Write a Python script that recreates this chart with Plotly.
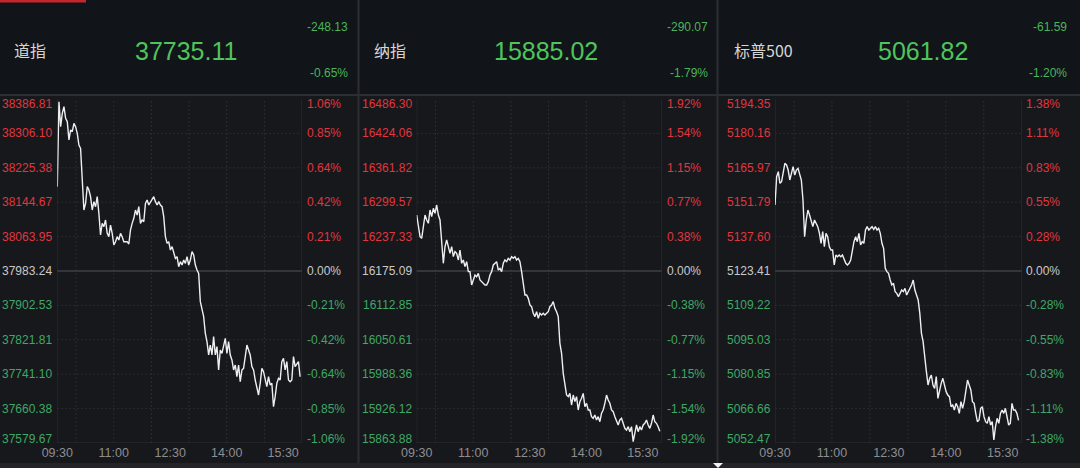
import numpy as np
import plotly.graph_objects as go

W, H = 1080, 468

# ---------------- data ----------------
names = ["道指", "纳指", "标普500"]
last_price = ["37735.11", "15885.02", "5061.82"]
change = ["-248.13", "-290.07", "-61.59"]
change_pct = ["-0.65%", "-1.79%", "-1.20%"]

dow_levels = [38386.81, 38306.10, 38225.38, 38144.67, 38063.95, 37983.24,
              37902.53, 37821.81, 37741.10, 37660.38, 37579.67]
nas_levels = [16486.30, 16424.06, 16361.82, 16299.57, 16237.33, 16175.09,
              16112.85, 16050.61, 15988.36, 15926.12, 15863.88]
spx_levels = [5194.35, 5180.16, 5165.97, 5151.79, 5137.60, 5123.41,
              5109.22, 5095.03, 5080.85, 5066.66, 5052.47]
dow_pct = ["1.06%", "0.85%", "0.64%", "0.42%", "0.21%", "0.00%",
           "-0.21%", "-0.42%", "-0.64%", "-0.85%", "-1.06%"]
nas_pct = ["1.92%", "1.54%", "1.15%", "0.77%", "0.38%", "0.00%",
           "-0.38%", "-0.77%", "-1.15%", "-1.54%", "-1.92%"]
spx_pct = ["1.38%", "1.11%", "0.83%", "0.55%", "0.28%", "0.00%",
           "-0.28%", "-0.55%", "-0.83%", "-1.11%", "-1.38%"]

time_ticks = [0, 90, 180, 270, 360]          # minutes after 09:30
time_labels = ["09:30", "11:00", "12:30", "14:00", "15:30"]
hour_marks = [30, 90, 150, 210, 270, 330]    # 10:00 ... 15:00

dow_values = [
    38181.1, 38380.5, 38321.9, 38353.2, 38368.8, 38341.4, 38333.6, 38290.6, 38314.1, 38310.1,
    38329.7, 38321.9, 38306.2, 38278.9, 38271.0, 38188.9, 38126.3, 38142.0, 38181.1, 38173.3,
    38157.6, 38126.3, 38145.9, 38134.2, 38157.6, 38118.5, 38067.7, 38095.1, 38087.2, 38102.9,
    38071.6, 38063.8, 38091.1, 38071.6, 38044.2, 38052.0, 38063.8, 38056.0, 38071.6, 38063.8,
    38052.0, 38052.0, 38052.0, 38046.6, 38079.4, 38095.1, 38106.8, 38126.3, 38114.6, 38134.2,
    38095.1, 38102.9, 38098.9, 38142.0, 38149.8, 38138.1, 38145.9, 38149.8, 38157.6, 38145.9,
    38138.1, 38145.9, 38138.1, 38134.2, 38110.7, 38063.8, 38048.1, 38052.0, 38032.5, 38040.3,
    38024.7, 38012.9, 38016.9, 37993.4, 38005.1, 37997.3, 38009.0, 38001.2, 38016.9, 37997.3,
    38009.0, 38028.6, 38020.8, 37997.3, 37985.6, 37977.7,
    37911.3, 37895.7, 37876.1, 37837.0, 37817.5, 37786.2, 37809.6, 37786.2, 37829.2, 37786.2,
    37805.7, 37751.0, 37797.9, 37790.1, 37805.7, 37825.3, 37790.1, 37817.5, 37786.2, 37774.4,
    37751.0, 37762.7, 37735.3, 37762.7, 37723.6, 37751.0, 37754.9, 37778.3, 37809.6, 37797.9,
    37786.2, 37758.8, 37751.0, 37727.5, 37708.0, 37692.3, 37719.7, 37754.9, 37747.1, 37727.5,
    37711.9, 37735.3, 37715.8, 37719.7, 37664.9, 37688.4, 37719.7, 37731.4, 37727.5, 37770.5,
    37778.3, 37751.0, 37770.5, 37727.5, 37723.6, 37727.5, 37782.3, 37758.8, 37766.6, 37770.5,
    37735.11,
]

nas_values = [
    16276.4, 16258.3, 16237.2, 16234.2, 16261.4, 16276.4, 16267.4, 16261.4, 16285.5, 16273.4,
    16288.5, 16279.5, 16294.5, 16276.4, 16267.4, 16231.2, 16189.0, 16219.1, 16231.2, 16219.1,
    16207.1, 16219.1, 16201.1, 16210.1, 16207.1, 16195.0, 16213.1, 16189.0, 16195.0, 16183.0,
    16192.0, 16173.9,
    16173.9, 16149.8, 16158.8, 16167.9, 16164.8, 16170.9, 16158.8, 16155.8, 16152.8, 16149.8,
    16149.8, 16155.8, 16167.9, 16173.9,
    16186.0, 16189.0, 16192.0, 16176.9, 16179.9, 16173.9, 16189.0, 16195.0, 16192.0, 16198.0,
    16195.0, 16201.1, 16198.0, 16201.1, 16195.0, 16198.0, 16192.0,
    16173.9, 16152.8, 16131.7, 16131.7, 16125.6, 16113.6, 16110.6, 16098.5, 16092.5, 16101.5,
    16089.4, 16098.5, 16095.5, 16098.5, 16095.5, 16098.5, 16101.5, 16110.6, 16113.6, 16119.6,
    16107.5, 16101.5, 16092.5, 16044.2, 16026.1, 15989.9, 15965.8, 15950.7, 15947.7, 15953.7,
    15932.6, 15950.7, 15938.7, 15947.7, 15923.6, 15938.7, 15944.7, 15953.7, 15929.6, 15935.7,
    15923.6, 15923.6, 15911.5, 15908.5, 15914.5, 15905.5, 15911.5, 15902.5, 15917.6, 15923.6,
    15935.7, 15950.7, 15941.7, 15935.7, 15923.6, 15920.6, 15911.5, 15902.5, 15896.5, 15905.5,
    15908.5, 15899.5, 15890.4, 15887.4, 15893.4, 15884.4, 15893.4, 15866.3, 15884.4, 15896.5,
    15884.4, 15893.4, 15887.4, 15896.5, 15899.5, 15905.5, 15896.5, 15890.4, 15899.5, 15914.5,
    15902.5, 15899.5, 15893.4, 15885.02,
]

spx_values = [
    5150.63, 5162.31, 5164.38, 5159.57, 5160.25, 5163.69, 5167.81,
    5167.13, 5165.06, 5160.94, 5164.38, 5166.44, 5163.00, 5165.06, 5165.75, 5163.69, 5160.94,
    5152.69, 5137.57, 5144.44, 5148.57, 5146.51, 5143.76, 5141.69, 5144.44, 5143.07, 5141.69,
    5138.94, 5134.82, 5139.63, 5133.45, 5138.94, 5137.57, 5133.45, 5132.07, 5132.07, 5125.89,
    5130.01, 5129.32, 5130.01, 5129.32, 5130.01, 5127.95, 5126.57, 5125.89, 5126.57, 5127.95,
    5132.76, 5135.51, 5137.57, 5135.51, 5138.94, 5134.13, 5135.51, 5134.82, 5140.32, 5141.69,
    5140.32, 5141.01, 5141.69, 5140.59, 5141.69, 5140.32, 5141.01, 5138.94, 5134.82, 5132.76,
    5124.51, 5123.13,
    5122.45, 5119.70, 5117.63, 5118.32, 5114.88, 5114.20, 5112.82, 5114.20, 5115.57, 5114.88,
    5116.26, 5113.51, 5114.88, 5116.26, 5117.63, 5119.70, 5115.57, 5113.51, 5111.45, 5105.95,
    5097.70, 5094.26, 5086.70, 5081.89, 5076.39, 5079.14, 5080.51, 5076.39, 5075.01, 5079.83,
    5070.89, 5074.33, 5077.08, 5079.14, 5075.70, 5073.64, 5072.27, 5071.58, 5067.45, 5068.14,
    5066.08, 5068.83, 5067.45, 5064.70, 5069.52, 5066.77, 5069.52, 5074.33, 5078.45, 5076.39,
    5074.33, 5069.52, 5068.83, 5064.70, 5061.27, 5061.95, 5066.77, 5067.45, 5063.33, 5061.27,
    5060.58, 5063.33, 5059.89, 5061.27, 5053.71, 5059.20, 5062.64, 5060.58, 5064.70, 5066.08,
    5064.70, 5066.77, 5063.33, 5059.89, 5060.58, 5068.83, 5066.08, 5066.08, 5064.70, 5061.82,
]

# last sample minute for each series (samples evenly spaced through the session)
series_end_minute = [387, 387, 385]

# ---------------- style / layout constants ----------------
BG_PLOT = "#17181c"
BG_HEAD = "#111418"
GRID = "#2b2c31"
ZERO = "#3e3f44"
SEP = "#2c2e33"
RED = "#e0363e"
GREEN_AX = "#3ea865"
GREEN_HEAD = "#4fc35c"
GREY_ZERO = "#c9c9c9"
LINE = "#efefef"
FONT = "Liberation Sans, Arial, Noto Sans CJK SC, sans-serif"
CJK = "Noto Sans CJK SC, Noto Sans, sans-serif"

panel_x0 = [0, 360, 720]
plot_left = [57.3, 416.7, 775.0]
plot_right = [302.0, 661.7, 1021.7]
left_lab_right = [53.5, 413.5, 772.5]
right_lab_left = [305.0, 665.0, 1024.0]
big_center = [186, 546, 923]
head_right = [350, 710, 1069]
PLOT_TOP, PLOT_BOT = 99, 443


def px(x):
    return x / W


def py(y):
    return 1 - y / H


fig = go.Figure()
shapes = []
annotations = []

all_values = [dow_values, nas_values, spx_values]
all_levels = [dow_levels, nas_levels, spx_levels]
all_pct = [dow_pct, nas_pct, spx_pct]

# backgrounds
shapes.append(dict(type="rect", xref="paper", yref="paper", x0=0, x1=1, y0=py(94), y1=1,
                   fillcolor=BG_HEAD, line_width=0, layer="below"))
shapes.append(dict(type="rect", xref="paper", yref="paper", x0=0, x1=1, y0=0, y1=py(463),
                   fillcolor="#222428", line_width=0, layer="below"))
shapes.append(dict(type="rect", xref="paper", yref="paper", x0=0, x1=px(86), y0=py(2.5), y1=1,
                   fillcolor="#c4262c", line_width=0))
shapes.append(dict(type="line", xref="paper", yref="paper", x0=0, x1=1, y0=py(95), y1=py(95),
                   line=dict(color=SEP, width=2)))
for sx in [358.5, 717.5]:
    shapes.append(dict(type="line", xref="paper", yref="paper", x0=px(sx), x1=px(sx),
                       y0=py(463), y1=1, line=dict(color=SEP, width=2)))
shapes.append(dict(type="path", xref="paper", yref="paper",
                   path=f"M {px(713)} {py(463)} L {px(723)} {py(463)} L {px(718)} {py(468)} Z",
                   fillcolor="#f2f2f2", line_width=0))

layout_axes = {}
for i in range(3):
    n = i + 1
    xa = "x" if n == 1 else f"x{n}"
    ya = "y" if n == 1 else f"y{n}"
    levels = all_levels[i]
    vals = all_values[i]
    t = np.linspace(0, series_end_minute[i], len(vals))

    fig.add_trace(go.Scatter(x=t, y=vals, mode="lines", xaxis=xa, yaxis=ya,
                             line=dict(color=LINE, width=1.4), hoverinfo="skip",
                             showlegend=False))

    layout_axes["xaxis" if n == 1 else f"xaxis{n}"] = dict(
        domain=[px(plot_left[i]), px(plot_right[i])], range=[0, 390],
        anchor=ya, showgrid=False, zeroline=False, showline=False, automargin=False,
        tickvals=time_ticks, ticktext=time_labels, ticks="",
        tickfont=dict(family=FONT, size=12.5, color="#8d8e92"), fixedrange=True)
    layout_axes["yaxis" if n == 1 else f"yaxis{n}"] = dict(
        domain=[py(PLOT_BOT), py(PLOT_TOP)], range=[levels[-1], levels[0]],
        anchor=xa, showgrid=False, zeroline=False, showticklabels=False, automargin=False,
        showline=False, fixedrange=True)

    # vertical hour gridlines
    for hm in hour_marks:
        shapes.append(dict(type="line", xref=xa, yref=f"{ya} domain", x0=hm, x1=hm, y0=0, y1=1,
                           line=dict(color=GRID, width=1, dash="2px,2px"), layer="below"))
    # frame lines left/right/bottom
    for ex in [0, 390]:
        shapes.append(dict(type="line", xref=xa, yref=f"{ya} domain", x0=ex, x1=ex, y0=0, y1=1,
                           line=dict(color=SEP, width=1), layer="below"))
    shapes.append(dict(type="line", xref=f"{xa} domain", yref=ya, x0=0, x1=1,
                       y0=levels[-1], y1=levels[-1], line=dict(color=SEP, width=1), layer="below"))
    # horizontal gridlines
    for k, lv in enumerate(levels):
        if k in (0, 10):
            continue
        if k == 5:
            shapes.append(dict(type="line", xref=f"{xa} domain", yref=ya, x0=0, x1=1, y0=lv, y1=lv,
                               line=dict(color=ZERO, width=1.5), layer="below"))
        else:
            shapes.append(dict(type="line", xref=f"{xa} domain", yref=ya, x0=0, x1=1, y0=lv, y1=lv,
                               line=dict(color=GRID, width=1, dash="2px,2px"), layer="below"))

    # axis labels
    for k, lv in enumerate(levels):
        col = RED if k < 5 else (GREY_ZERO if k == 5 else GREEN_AX)
        shift = -5 if k == 0 else (4 if k == 10 else 0)
        annotations.append(dict(xref="paper", yref=ya, x=px(left_lab_right[i]), y=lv,
                                xanchor="right", yanchor="middle", yshift=shift,
                                text=f"{lv:.2f}", showarrow=False,
                                font=dict(family=FONT, size=12, color=col)))
        annotations.append(dict(xref="paper", yref=ya, x=px(right_lab_left[i]), y=lv,
                                xanchor="left", yanchor="middle", yshift=shift,
                                text=all_pct[i][k], showarrow=False,
                                font=dict(family=FONT, size=12, color=col)))

    # header
    x0 = panel_x0[i]
    annotations.append(dict(xref="paper", yref="paper", x=px(x0 + 12), y=py(50),
                            xanchor="left", yanchor="middle", text=names[i], showarrow=False,
                            font=dict(family=CJK, size=16, color="#d6d6d6")))
    annotations.append(dict(xref="paper", yref="paper", x=px(big_center[i]), y=py(51),
                            xanchor="center", yanchor="middle", text=last_price[i], showarrow=False,
                            font=dict(family=FONT, size=25, color=GREEN_HEAD)))
    annotations.append(dict(xref="paper", yref="paper", x=px(head_right[i]), y=py(27),
                            xanchor="right", yanchor="middle", text=change[i], showarrow=False,
                            font=dict(family=FONT, size=12, color="#4cb45b")))
    annotations.append(dict(xref="paper", yref="paper", x=px(head_right[i]), y=py(73),
                            xanchor="right", yanchor="middle", text=change_pct[i], showarrow=False,
                            font=dict(family=FONT, size=12, color="#4cb45b")))

fig.update_layout(
    template="none",
    width=W, height=H, margin=dict(l=0, r=0, t=0, b=0, pad=0, autoexpand=False),
    paper_bgcolor=BG_PLOT, plot_bgcolor=BG_PLOT,
    shapes=shapes, annotations=annotations, showlegend=False,
    **layout_axes,
)

post = ("document.documentElement.style.margin='0';"
        "document.documentElement.style.padding='0';"
        "document.documentElement.style.overflow='hidden';"
        "document.body.style.margin='0';"
        "document.body.style.padding='0';"
        "document.body.style.overflow='hidden';"
        "document.body.style.background='" + BG_PLOT + "';")

fig.write_html("out.html", config={"displayModeBar": False}, post_script=post)
